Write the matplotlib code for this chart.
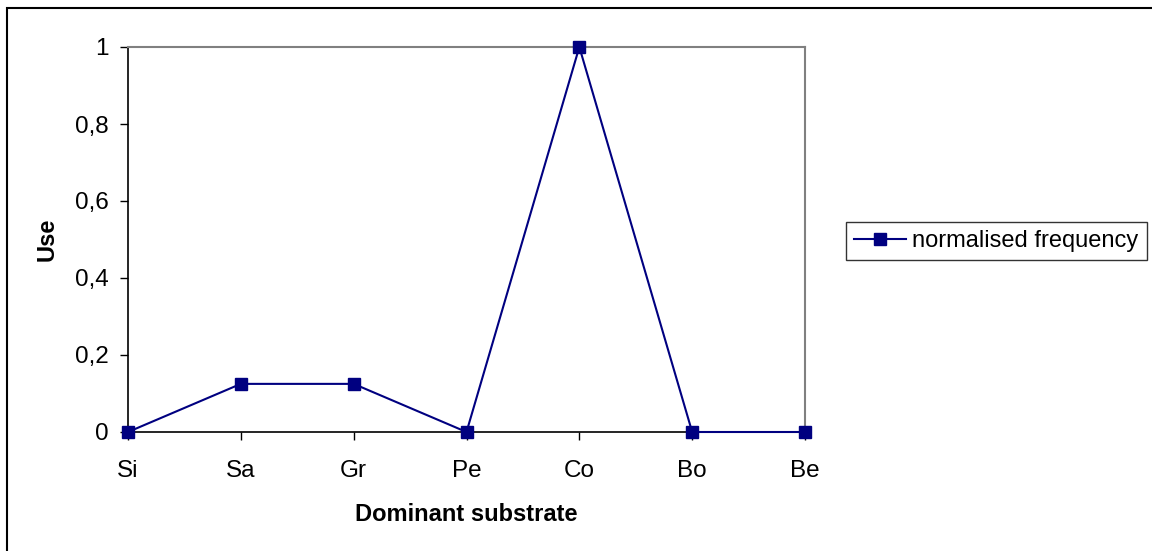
import matplotlib.pyplot as plt
from matplotlib.ticker import FuncFormatter, MultipleLocator
from matplotlib.patches import Rectangle

plt.rcParams['font.family'] = ['Liberation Sans', 'DejaVu Sans']

# Use by dominant substrate class
substrates = ['Si', 'Sa', 'Gr', 'Pe', 'Co', 'Bo', 'Be']
norm_freq = [0, 0.125, 0.125, 0, 1, 0, 0]

W, H = 1152, 551
fig = plt.figure(figsize=(W / 100, H / 100), dpi=100)
ax = fig.add_axes([128 / W, 1 - 432 / H, (805 - 128) / W, (432 - 47) / H])

x = range(len(substrates))
ax.plot(x, norm_freq, color='#000080', linewidth=1.5, marker='s',
        markersize=8, label='normalised frequency', clip_on=False, zorder=3)

ax.set_xlim(0, len(substrates) - 1)
ax.set_ylim(0, 1)
ax.set_xticks(list(x))
ax.set_xticklabels(substrates)
ax.yaxis.set_major_locator(MultipleLocator(0.2))
ax.yaxis.set_major_formatter(FuncFormatter(
    lambda v, pos: ('%g' % round(v, 1)).replace('.', ',')))

ax.tick_params(axis='both', labelsize=17.5, direction='out', length=6,
               width=1, color='black')
ax.tick_params(axis='x', pad=14)
ax.tick_params(axis='y', pad=8)

for side in ('top', 'right'):
    ax.spines[side].set_color('#808080')
    ax.spines[side].set_linewidth(1.5)
for side in ('left', 'bottom'):
    ax.spines[side].set_color('black')
    ax.spines[side].set_linewidth(1.2)

ax.set_xlabel('Dominant substrate', fontsize=17, fontweight='bold', labelpad=15)
ax.set_ylabel('Use', fontsize=17, fontweight='bold', labelpad=12)

fig.legend(loc='center left', bbox_to_anchor=(846 / W, 1 - 241 / H),
           fontsize=17, frameon=True, fancybox=False, edgecolor='black',
           handlelength=2.2, handletextpad=0.25, borderpad=0.35,
           borderaxespad=0).get_frame().set_linewidth(1)

# chart frame around the whole figure
fig.patches.append(Rectangle((7 / W, -0.1), 1.1, 1 - 8 / H + 0.1,
                             transform=fig.transFigure, fill=False,
                             edgecolor='black', linewidth=1.5))

fig.savefig('out.png', dpi=100)
